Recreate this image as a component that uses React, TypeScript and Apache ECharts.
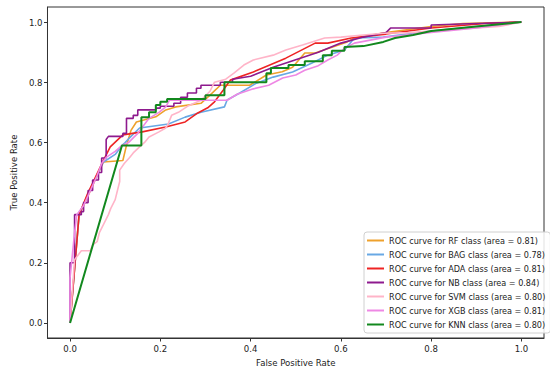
import React, { useEffect, useRef } from "react";
import * as echarts from "echarts";

const seriesNames = [
  "ROC curve for RF class (area = 0.81)",
  "ROC curve for BAG class (area = 0.78)",
  "ROC curve for ADA class (area = 0.81)",
  "ROC curve for NB class (area = 0.84)",
  "ROC curve for SVM class (area = 0.80)",
  "ROC curve for XGB class (area = 0.81)",
  "ROC curve for KNN class (area = 0.80)",
];
const colors = ["#eea12c", "#68a8e4", "#ee2424", "#8e1a8e", "#ffb4c8", "#ee88e4", "#12881e"];
const widths = [1.6, 1.6, 1.6, 1.6, 1.6, 1.6, 2];

const rf = [[0,0],[0.02,0.36],[0.03,0.39],[0.045,0.44],[0.06,0.49],[0.074,0.535],[0.117,0.54],[0.125,0.59],[0.135,0.64],[0.147,0.668],[0.19,0.685],[0.212,0.708],[0.234,0.718],[0.29,0.73],[0.31,0.757],[0.333,0.79],[0.398,0.79],[0.435,0.824],[0.47,0.835],[0.493,0.85],[0.52,0.897],[0.543,0.897],[0.614,0.934],[0.63,0.947],[0.7,0.965],[0.8,0.985],[0.87,0.995],[1,1]];
const bag = [[0,0],[0.02,0.36],[0.04,0.43],[0.074,0.535],[0.1,0.56],[0.115,0.59],[0.121,0.598],[0.135,0.62],[0.154,0.648],[0.218,0.661],[0.255,0.684],[0.29,0.7],[0.342,0.718],[0.348,0.741],[0.376,0.764],[0.413,0.797],[0.45,0.817],[0.493,0.834],[0.536,0.864],[0.571,0.89],[0.608,0.907],[0.63,0.947],[0.694,0.95],[0.8,0.97],[0.9,0.985],[1,1]];
const ada = [[0,0],[0.02,0.36],[0.039,0.43],[0.074,0.54],[0.089,0.585],[0.117,0.625],[0.16,0.635],[0.212,0.651],[0.255,0.668],[0.283,0.698],[0.305,0.715],[0.32,0.735],[0.34,0.775],[0.355,0.807],[0.406,0.834],[0.478,0.88],[0.543,0.93],[0.571,0.93],[0.623,0.947],[0.7,0.96],[0.8,0.98],[0.92,0.995],[1,1]];
const nb = [[0,0],[0,0.2],[0.01,0.2],[0.01,0.36],[0.025,0.36],[0.025,0.37],[0.03,0.37],[0.03,0.4],[0.04,0.4],[0.04,0.44],[0.05,0.44],[0.05,0.475],[0.063,0.475],[0.063,0.5],[0.07,0.5],[0.07,0.548],[0.08,0.548],[0.08,0.61],[0.085,0.62],[0.117,0.62],[0.117,0.63],[0.125,0.63],[0.125,0.68],[0.14,0.68],[0.14,0.69],[0.15,0.69],[0.15,0.708],[0.19,0.708],[0.19,0.714],[0.2,0.714],[0.2,0.72],[0.23,0.72],[0.23,0.73],[0.245,0.73],[0.245,0.75],[0.26,0.75],[0.26,0.764],[0.28,0.764],[0.28,0.78],[0.29,0.78],[0.29,0.79],[0.333,0.79],[0.333,0.8],[0.36,0.8],[0.36,0.81],[0.4,0.82],[0.45,0.85],[0.5,0.875],[0.55,0.9],[0.6,0.93],[0.65,0.95],[0.7,0.965],[0.71,0.98],[0.8,0.98],[0.8,0.99],[0.9,0.995],[1,1]];
const svm = [[0,0],[0.01,0.21],[0.025,0.24],[0.045,0.24],[0.05,0.26],[0.06,0.27],[0.065,0.3],[0.075,0.33],[0.085,0.36],[0.09,0.38],[0.1,0.41],[0.105,0.44],[0.11,0.47],[0.11,0.508],[0.12,0.53],[0.132,0.55],[0.14,0.565],[0.154,0.585],[0.165,0.6],[0.175,0.618],[0.197,0.635],[0.212,0.648],[0.218,0.664],[0.225,0.69],[0.24,0.7],[0.26,0.72],[0.29,0.74],[0.31,0.77],[0.32,0.8],[0.345,0.81],[0.363,0.83],[0.385,0.857],[0.406,0.874],[0.45,0.89],[0.478,0.907],[0.515,0.924],[0.536,0.934],[0.564,0.947],[0.6,0.95],[0.65,0.957],[0.694,0.963],[0.75,0.965],[0.8,0.97],[0.9,0.98],[0.95,0.985],[1,1]];
const xgb = [[0,0],[0,0.15],[0.01,0.3],[0.015,0.36],[0.03,0.39],[0.045,0.44],[0.06,0.49],[0.07,0.53],[0.08,0.55],[0.1,0.57],[0.115,0.59],[0.13,0.6],[0.15,0.63],[0.175,0.68],[0.197,0.7],[0.212,0.718],[0.22,0.74],[0.348,0.74],[0.37,0.76],[0.406,0.778],[0.44,0.79],[0.471,0.814],[0.5,0.824],[0.52,0.84],[0.55,0.855],[0.571,0.874],[0.592,0.89],[0.608,0.913],[0.63,0.93],[0.7,0.95],[0.8,0.965],[0.9,0.98],[1,1]];
const knn = [[0,0],[0.115,0.59],[0.158,0.59],[0.158,0.684],[0.175,0.684],[0.175,0.7],[0.19,0.7],[0.19,0.724],[0.2,0.724],[0.2,0.735],[0.215,0.735],[0.215,0.744],[0.3,0.744],[0.3,0.757],[0.342,0.757],[0.342,0.8],[0.435,0.8],[0.435,0.83],[0.445,0.83],[0.445,0.847],[0.484,0.847],[0.484,0.857],[0.52,0.857],[0.52,0.87],[0.56,0.87],[0.56,0.89],[0.58,0.89],[0.58,0.905],[0.608,0.905],[0.608,0.917],[0.65,0.92],[0.694,0.934],[0.72,0.947],[0.76,0.957],[0.8,0.97],[0.9,0.985],[1,1]];

const tickValues = [0, 0.2, 0.4, 0.6, 0.8, 1.0];
const xTitle = "False Positive Rate";
const yTitle = "True Positive Rate";

const FONT = "'DejaVu Sans Condensed', 'DejaVu Sans', sans-serif";

export default function App() {
  const ref = useRef<HTMLDivElement>(null);
  useEffect(() => {
    if (!ref.current) return;
    const chart = echarts.init(ref.current, null, { renderer: "svg" });
    const allData = [rf, bag, ada, nb, svm, xgb, knn];
    const axisCommon = (name: string, isY: boolean) => ({
      type: "value",
      min: -0.05,
      max: 1.05,
      name,
      nameLocation: "middle",
      nameGap: isY ? 23 : 19,
      nameTextStyle: { fontFamily: FONT, fontSize: 9.5, color: "#222", verticalAlign: isY ? "bottom" : "top" },
      splitLine: { show: false },
      axisLine: { show: true, onZero: false, lineStyle: { color: "#333", width: 1 } },
      axisTick: { show: true, length: 3.5, customValues: tickValues, lineStyle: { color: "#333" } },
      axisLabel: {
        customValues: tickValues,
        formatter: (v: number) => v.toFixed(1),
        fontFamily: FONT,
        fontSize: 9.5,
        color: "#222",
        margin: 5,
      },
    });
    chart.setOption({
      animation: false,
      grid: { left: 36, top: 7, right: 6, bottom: 35, show: true, borderColor: "#333", borderWidth: 1, containLabel: false },
      xAxis: axisCommon(xTitle, false),
      yAxis: axisCommon(yTitle, true),
      legend: {
        orient: "vertical",
        left: 364,
        top: 232,
        padding: [3, 5, 3, 3],
        itemGap: 3,
        itemWidth: 17,
        itemHeight: 2,
        itemTextGap: 7,
        icon: "rect",
        backgroundColor: "rgba(255,255,255,0.85)",
        borderColor: "#d0d0d0",
        borderWidth: 1,
        borderRadius: 3,
        textStyle: { fontFamily: FONT, fontSize: 9, color: "#222", lineHeight: 11 },
        data: seriesNames,
      },
      series: seriesNames.map((n, i) => ({
        name: n,
        type: "line",
        data: allData[i],
        showSymbol: false,
        silent: true,
        color: colors[i],
        lineStyle: { color: colors[i], width: widths[i] },
        z: 2 + i,
      })),
    });
    return () => chart.dispose();
  }, []);
  return <div ref={ref} style={{ width: 550, height: 373, position: "absolute", left: 0, top: 0, background: "#fff" }} />;
}
